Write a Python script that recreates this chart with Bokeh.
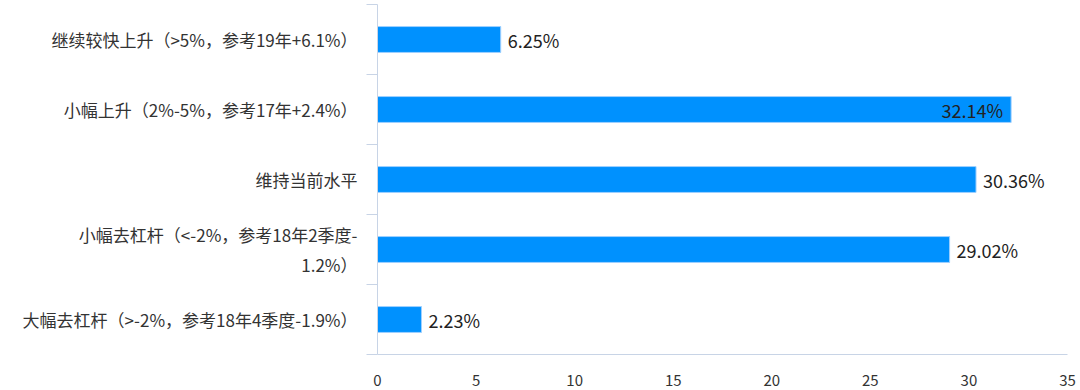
from bokeh.plotting import figure
from bokeh.models import Range1d, FixedTicker, ColumnDataSource
from bokeh.core.properties import value
from bokeh.embed import file_html
from bokeh.resources import INLINE

categories = [
    "继续较快上升（>5%，参考19年+6.1%）",
    "小幅上升（2%-5%，参考17年+2.4%）",
    "维持当前水平",
    "小幅去杠杆（<-2%，参考18年2季度-\n1.2%）",
    "大幅去杠杆（>-2%，参考18年4季度-1.9%）",
]
values = [6.25, 32.14, 30.36, 29.02, 2.23]
value_labels = ["6.25%", "32.14%", "30.36%", "29.02%", "2.23%"]
x_ticks = [0, 5, 10, 15, 20, 25, 30, 35]

FONT = "Noto Sans CJK SC"
X_MAX = 35
n = len(categories)
ys = [n - i - 0.5 for i in range(n)]

p = figure(width=1078, height=388, output_backend="svg", toolbar_location=None,
           x_range=Range1d(0, X_MAX), y_range=Range1d(0, n),
           min_border_left=377, min_border_right=11, min_border_top=4, min_border_bottom=32)
p.outline_line_color = None
p.grid.grid_line_color = None
p.background_fill_color = "white"

src = ColumnDataSource(dict(y=ys, v=values))
p.hbar(y="y", right="v", left=0, height=0.37, source=src,
       fill_color="#0091fe", line_color="#9fd0ff", line_width=1)

# value labels: outside to the right, or inside when they would overflow the range
out_x, out_y, out_t = [], [], []
in_x, in_y, in_t = [], [], []
for v, y, t in zip(values, ys, value_labels):
    if v + 3.5 > X_MAX:
        in_x.append(v); in_y.append(y); in_t.append(t)
    else:
        out_x.append(v); out_y.append(y); out_t.append(t)
p.text(x=out_x, y=out_y, text=out_t, x_offset=7, text_align="left", text_baseline="middle",
       text_font=value(FONT), text_font_size="18px", text_color="#222222")
p.text(x=in_x, y=in_y, text=in_t, x_offset=-8, text_align="right", text_baseline="middle",
       text_font=value(FONT), text_font_size="18px", text_color="#222222")

axis_color = "#c8d4e6"
yaxis = p.yaxis[0]
yaxis.ticker = FixedTicker(ticks=ys, minor_ticks=list(range(n + 1)))
yaxis.major_label_overrides = {y: c for y, c in zip(ys, categories)}
yaxis.axis_line_color = axis_color
yaxis.major_tick_line_color = None
yaxis.minor_tick_line_color = axis_color
yaxis.minor_tick_out = 11
yaxis.minor_tick_in = 0
yaxis.major_label_standoff = 9
yaxis.major_label_text_font = FONT
yaxis.major_label_text_font_size = "17px"
yaxis.major_label_text_color = "#333333"

xaxis = p.xaxis[0]
xaxis.ticker = FixedTicker(ticks=x_ticks)
xaxis.axis_line_color = axis_color
xaxis.major_tick_line_color = None
xaxis.minor_tick_line_color = None
xaxis.major_label_standoff = 14
xaxis.major_label_text_font = FONT
xaxis.major_label_text_font_size = "15px"
xaxis.major_label_text_color = "#333333"

open("out.html", "w").write(file_html(p, INLINE))
